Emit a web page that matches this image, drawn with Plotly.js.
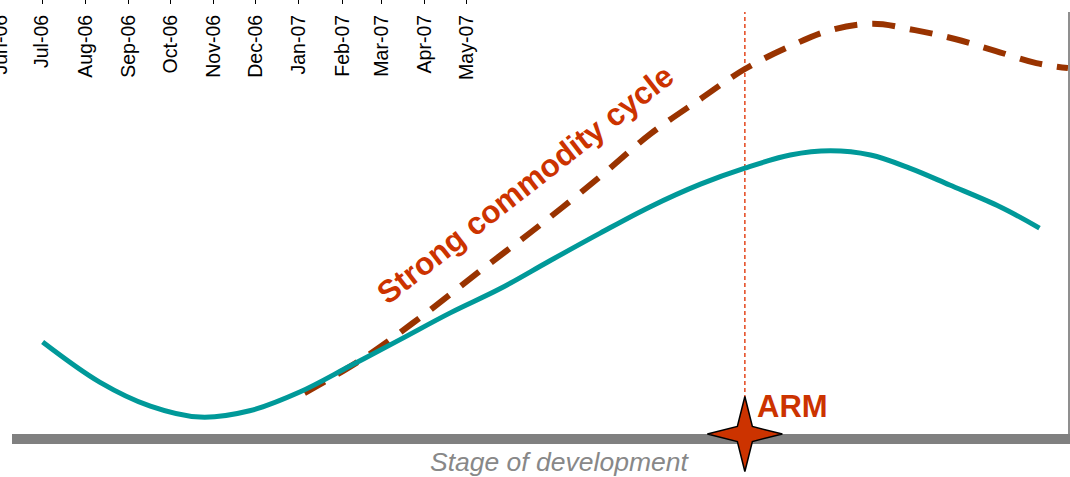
<!DOCTYPE html>
<html>
<head>
<meta charset="utf-8">
<script src="https://cdn.plot.ly/plotly-3.0.1.min.js"></script>
<style>
  html, body { margin: 0; padding: 0; background: #ffffff; }
  #chart { width: 1070px; height: 477px; }
</style>
</head>
<body>
<div id="chart"></div>
<script>
// Timeline months shown along the top
const monthDates = ['2006-06-01', '2006-07-01', '2006-08-01', '2006-09-01', '2006-10-01', '2006-11-01',
                    '2006-12-01', '2007-01-01', '2007-02-01', '2007-03-01', '2007-04-01', '2007-05-01'];
const monthLabels = ['Jun-06', 'Jul-06', 'Aug-06', 'Sep-06', 'Oct-06', 'Nov-06',
                     'Dec-06', 'Jan-07', 'Feb-07', 'Mar-07', 'Apr-07', 'May-07'];

// Company development path (stage 0-100, index 0-100)
const companyStage = [2.9, 8.3, 13.1, 17.8, 22.5, 27.3, 32.0, 36.7, 41.5, 46.2, 50.9, 55.7,
                      60.4, 65.2, 69.4, 73.7, 77.5, 81.3, 85.0, 88.8, 93.6, 97.3];
const companyValue = [21.8, 12.3, 6.6, 4.0, 5.5, 10.0, 16.1, 22.3, 28.7, 34.4, 41.0, 47.6,
                      53.8, 59.2, 63.0, 66.1, 67.1, 66.1, 63.0, 59.0, 53.8, 48.8];

// Path under a strong commodity cycle
const cycleStage = [27.7, 33.0, 38.6, 44.3, 50.0, 55.7, 60.4, 65.2, 69.4, 73.7, 77.5, 81.5,
                    85.5, 89.3, 93.1, 97.0, 100.0];
const cycleValue = [9.7, 17.5, 27.5, 38.6, 49.5, 61.0, 71.0, 79.4, 86.5, 91.9, 95.7, 97.2,
                    95.7, 93.6, 90.8, 87.9, 86.7];

// Where ARM currently sits
const armStage = [69.4];
const armLevel = [0];
const markerSpan = [0, 100];

const FONT = 'Liberation Sans, Arial, Helvetica, sans-serif';
const RED = '#CC3300';

// Four-point star glyph, in pixels around its anchor
const STAR_TIP = 37.5;
const STAR_WAIST = 7.5;
const starPath = [
  'M', -STAR_TIP, 0, 'L', -STAR_WAIST, STAR_WAIST, 'L', 0, STAR_TIP, 'L', STAR_WAIST, STAR_WAIST,
  'L', STAR_TIP, 0, 'L', STAR_WAIST, -STAR_WAIST, 'L', 0, -STAR_TIP, 'L', -STAR_WAIST, -STAR_WAIST, 'Z'
].join(' ');

const traces = [
  {
    // month scale carrier for the top timeline axis (no visible marks)
    x: monthDates, y: monthDates.map(() => null),
    xaxis: 'x2', yaxis: 'y',
    type: 'scatter', mode: 'lines',
    hoverinfo: 'skip'
  },
  {
    x: [armStage[0], armStage[0]], y: markerSpan,
    type: 'scatter', mode: 'lines',
    line: { color: '#E4461C', width: 1.5, dash: '4px,3px' },
    hoverinfo: 'skip'
  },
  {
    x: cycleStage, y: cycleValue,
    type: 'scatter', mode: 'lines',
    line: { color: '#993300', width: 6, dash: '23px,15px', shape: 'spline', smoothing: 1 },
    cliponaxis: false
  },
  {
    x: companyStage, y: companyValue,
    type: 'scatter', mode: 'lines',
    line: { color: '#009999', width: 5, shape: 'spline', smoothing: 1 },
    cliponaxis: false
  }
];

const layout = {
  width: 1070,
  height: 477,
  margin: { l: 0, r: 2, t: 0, b: 43 },
  paper_bgcolor: '#ffffff',
  plot_bgcolor: 'rgba(0,0,0,0)',
  showlegend: false,
  font: { family: FONT, color: '#000000' },
  xaxis: {
    range: [0, 100],
    domain: [0.011236, 1],
    showgrid: false, zeroline: false, showticklabels: false, ticks: '',
    showline: true, linecolor: '#808080', linewidth: 10,
    layer: 'below traces'
  },
  yaxis: {
    range: [0, 100],
    domain: [0, 0.97235],
    side: 'right',
    showgrid: false, zeroline: false, showticklabels: false, ticks: '',
    showline: true, linecolor: '#8F8F8F', linewidth: 2,
    layer: 'below traces'
  },
  xaxis2: {
    type: 'date',
    domain: [0, 1],
    anchor: 'free',
    position: 0.9908,
    side: 'bottom',
    range: ['2006-05-31 20:00', '2008-07-04 22:00'],
    tickmode: 'array',
    tickvals: monthDates,
    ticktext: monthLabels,
    tickangle: -90,
    ticklabeloverflow: 'allow',
    ticklabelstandoff: 6,
    tickfont: { family: FONT, size: 19.5, color: '#000000' },
    ticks: 'inside', ticklen: 4, tickwidth: 1, tickcolor: '#000000',
    showgrid: false, zeroline: false, showline: false
  },
  shapes: [
    {
      type: 'path',
      xref: 'x', yref: 'paper',
      xsizemode: 'pixel', ysizemode: 'pixel',
      xanchor: armStage[0], yanchor: armLevel[0],
      path: starPath,
      fillcolor: RED,
      line: { color: '#000000', width: 1.5 },
      layer: 'above'
    }
  ],
  annotations: [
    {
      text: 'Strong commodity cycle',
      x: 48.6, y: 59.3, xref: 'x', yref: 'y',
      showarrow: false, textangle: -38,
      font: { family: FONT, size: 31.5, color: RED, weight: 'bold' }
    },
    {
      text: 'ARM',
      x: armStage[0], y: 6.5, xref: 'x', yref: 'y',
      xanchor: 'left', xshift: 10,
      showarrow: false,
      font: { family: FONT, size: 31, color: RED, weight: 'bold' }
    },
    {
      text: 'Stage of development',
      x: 51.8, y: 0, xref: 'x', yref: 'paper',
      yanchor: 'top', yshift: -11,
      showarrow: false,
      font: { family: FONT, size: 26.5, color: '#888888', style: 'italic' }
    }
  ]
};

Plotly.newPlot('chart', traces, layout, { displayModeBar: false, staticPlot: true });
</script>
</body>
</html>
